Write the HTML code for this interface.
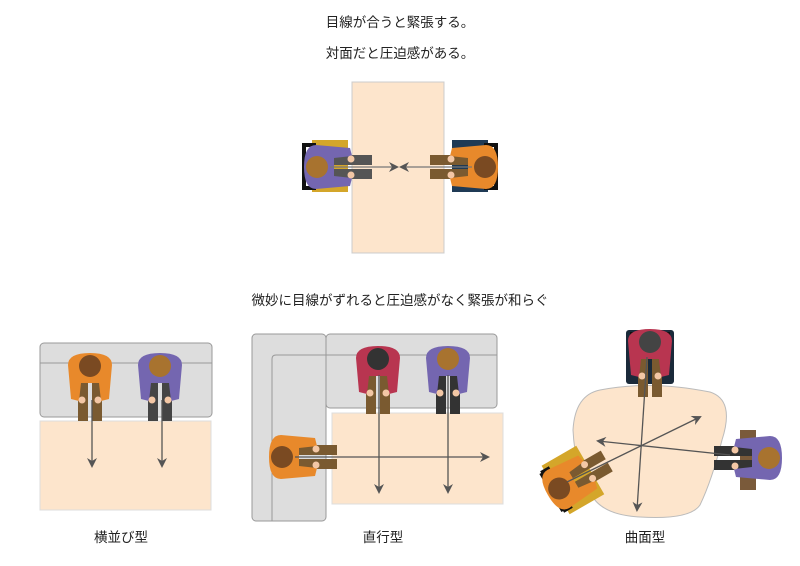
<!DOCTYPE html>
<html><head><meta charset="utf-8"><style>
body{margin:0;background:#fff}
svg{display:block}
text{font-family:"Liberation Sans","Noto Sans CJK JP",sans-serif;font-size:13.5px;fill:#222}
</style></head><body>
<svg width="800" height="566" viewBox="0 0 800 566" xmlns="http://www.w3.org/2000/svg">
<defs>
<g id="p">
<rect x="-12" y="14" width="10" height="40" fill="var(--leg)"/>
<rect x="2" y="14" width="10" height="40" fill="var(--leg)"/>
<path d="M-22,-2 Q-22,-14 0,-14 Q22,-14 22,-2 L19,32 L11,34 L9,16 L-9,16 L-11,34 L-19,32 Z" fill="var(--shirt)"/>
<circle cx="-8" cy="33" r="3.5" fill="#f3c7a5"/><circle cx="8" cy="33" r="3.5" fill="#f3c7a5"/>
<circle cx="0" cy="-1" r="11" fill="var(--hair)"/>
</g>
<marker id="a" markerWidth="10" markerHeight="10" refX="8" refY="5" orient="auto" markerUnits="userSpaceOnUse"><path d="M0,0 L10,5 L0,10 L3,5 Z" fill="#555"/></marker>
</defs>
<text x="400" y="27" text-anchor="middle">目線が合うと緊張する。</text>
<text x="400" y="58" text-anchor="middle">対面だと圧迫感がある。</text>
<text x="400" y="305" text-anchor="middle">微妙に目線がずれると圧迫感がなく緊張が和らぐ</text>
<text x="121" y="542" text-anchor="middle">横並び型</text>
<text x="383" y="542" text-anchor="middle">直行型</text>
<text x="645" y="542" text-anchor="middle">曲面型</text>

<!-- top -->
<rect x="352" y="82" width="92" height="171" fill="#fde5cc" stroke="#ccc"/>
<rect x="312" y="140" width="36" height="52" fill="#d4a62a"/>
<path d="M316,145 H304 V188 H316" fill="none" stroke="#111" stroke-width="4"/>
<use href="#p" transform="translate(318,167) rotate(-90)" style="--shirt:#7466b0;--leg:#555;--hair:#a8732f"/>
<rect x="452" y="140" width="36" height="52" fill="#1f3a55"/>
<path d="M484,145 H496 V188 H484" fill="none" stroke="#111" stroke-width="4"/>
<use href="#p" transform="translate(484,167) rotate(90)" style="--shirt:#e8892b;--leg:#7a5a30;--hair:#7a4a22"/>
<line x1="330" y1="167" x2="397" y2="167" stroke="#777" stroke-width="1.3" marker-end="url(#a)"/>
<line x1="472" y1="167" x2="401" y2="167" stroke="#777" stroke-width="1.3" marker-end="url(#a)"/>

<!-- left -->
<rect x="40" y="343" width="172" height="74" rx="4" fill="#ddd" stroke="#999"/>
<line x1="40" y1="363" x2="212" y2="363" stroke="#999"/>
<rect x="40" y="421" width="171" height="89" fill="#fde5cc" stroke="#ddd"/>
<use href="#p" transform="translate(90,367)" style="--shirt:#e8892b;--leg:#7a5a30;--hair:#7a4a22"/>
<use href="#p" transform="translate(160,367)" style="--shirt:#7466b0;--leg:#444;--hair:#a8732f"/>
<line x1="92" y1="400" x2="92" y2="466" stroke="#555" stroke-width="1.3" marker-end="url(#a)"/>
<line x1="162" y1="400" x2="162" y2="466" stroke="#555" stroke-width="1.3" marker-end="url(#a)"/>

<!-- middle -->
<rect x="252" y="334" width="74" height="187" rx="4" fill="#ddd" stroke="#999"/>
<path d="M326,355 H276 Q272,355 272,359 V521" fill="none" stroke="#999"/>
<rect x="326" y="334" width="171" height="74" rx="4" fill="#ddd" stroke="#999"/>
<line x1="326" y1="355" x2="497" y2="355" stroke="#999"/>
<rect x="332" y="413" width="171" height="91" fill="#fde5cc" stroke="#ddd"/>
<use href="#p" transform="translate(378,360)" style="--shirt:#b83550;--leg:#7a5a30;--hair:#333"/>
<use href="#p" transform="translate(448,360)" style="--shirt:#7466b0;--leg:#333;--hair:#a8732f"/>
<use href="#p" transform="translate(283,457) rotate(-90)" style="--shirt:#e8892b;--leg:#7a5a30;--hair:#7a4a22"/>
<line x1="379" y1="375" x2="379" y2="492" stroke="#555" stroke-width="1.3" marker-end="url(#a)"/>
<line x1="448" y1="375" x2="448" y2="492" stroke="#555" stroke-width="1.3" marker-end="url(#a)"/>
<line x1="295" y1="457" x2="488" y2="457" stroke="#555" stroke-width="1.3" marker-end="url(#a)"/>

<!-- right -->
<rect x="626" y="330" width="48" height="54" fill="#1a2a3a" rx="3"/>
<path d="M630,334 H670" stroke="#111" stroke-width="4"/>
<path d="M600,390 Q650,380 710,392 Q735,400 722,440 Q712,480 700,505 Q690,520 640,517 Q600,515 590,492 Q575,470 573,430 Q575,395 600,390 Z" fill="#fde5cc" stroke="#bbb"/>
<use href="#p" transform="translate(650,343)" style="--shirt:#b83550;--leg:#7a5a30;--hair:#444"/>
<rect x="740" y="430" width="16" height="60" fill="#7a5a3a"/>
<use href="#p" transform="translate(768,458) rotate(90)" style="--shirt:#7466b0;--leg:#333;--hair:#a8732f"/>
<g transform="translate(566,484) rotate(-120)">
<rect x="-28" y="-12" width="56" height="40" fill="#d4a62a"/>
<path d="M-22,-16 V-6 M22,-16 V-6 M-22,-16 H22" stroke="#111" stroke-width="4" fill="none"/>
</g>
<use href="#p" transform="translate(560,488) rotate(-120)" style="--shirt:#e8892b;--leg:#7a5a30;--hair:#7a4a22"/>
<line x1="647" y1="357" x2="637" y2="510" stroke="#555" stroke-width="1.3" marker-end="url(#a)"/>
<line x1="730" y1="455" x2="598" y2="441" stroke="#555" stroke-width="1.3" marker-end="url(#a)"/>
<line x1="567" y1="482" x2="700" y2="417" stroke="#555" stroke-width="1.3" marker-end="url(#a)"/>
</svg>
</body></html>
